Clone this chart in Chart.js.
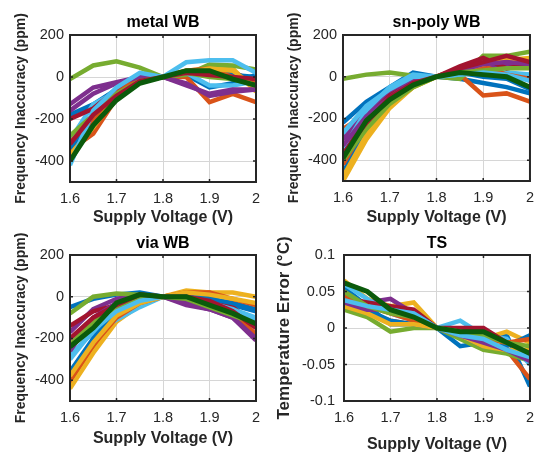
<!DOCTYPE html>
<html>
<head>
<meta charset="utf-8">
<script src="https://cdn.jsdelivr.net/npm/chart.js@4.4.0/dist/chart.umd.min.js"></script>
<style>
  html, body { margin: 0; padding: 0; background: #fff; }
  #wrap { position: relative; width: 542px; height: 454px; }
  .cell { position: absolute; width: 271px; height: 227px; }
</style>
</head>
<body>
<div id="wrap">
  <div class="cell" style="left:0;top:0"><canvas id="c-metal"></canvas></div>
  <div class="cell" style="left:271px;top:0"><canvas id="c-snpoly"></canvas></div>
  <div class="cell" style="left:0;top:227px"><canvas id="c-via"></canvas></div>
  <div class="cell" style="left:271px;top:227px"><canvas id="c-ts"></canvas></div>
</div>
<script>
// --- data ---
const VOLTS = [1.6, 1.65, 1.7, 1.75, 1.8, 1.85, 1.9, 1.95, 2.0];
const X_TICKS = [1.6, 1.7, 1.8, 1.9, 2.0];
const PPM_TICKS = [-400, -200, 0, 200];
const TS_TICKS = [-0.1, -0.05, 0, 0.05, 0.1];

// MATLAB colour order, last curve dark green
const PALETTE = ['#0072BD', '#D95319', '#EDB120', '#7E2F8E', '#77AC30', '#4DBEEE', '#A2142F'];
const LAST_COLOR = '#0B5A0B';

const METAL_WB = [
    [-180, -130, -60, -10, 0, 10, -50, -30, 10],
    [-350, -270, -100, -20, 0, 0, -120, -80, -120],
    [-390, -220, -80, -10, 0, 30, 40, 40, -70],
    [-130, -50, -25, 0, 0, -30, -90, -70, -60],
    [-10, 55, 75, 45, 0, 10, 60, 55, 35],
    [-300, -130, -70, 10, 0, 20, -40, -40, -20],
    [-200, -150, -60, 0, 0, 20, 10, 20, -20],
    [-340, -200, -100, -10, 0, 20, 20, 10, 0],
    [-310, -200, -80, 0, 0, 30, 40, 0, -30],
    [-370, -240, -90, -20, 0, 20, 40, 30, -50],
    [-160, -80, -30, 0, 0, -40, -80, -60, -60],
    [-280, -180, -80, -20, 0, 20, 0, -10, -40],
    [-420, -160, -50, 20, 0, 70, 80, 80, 20],
    [-320, -180, -90, -20, 0, 20, 10, 0, -10],
    [-400, -230, -110, -30, 0, 30, 30, -10, -40]
];

const SNPOLY_WB = [
    [-220, -120, -50, 20, 0, -10, -30, -50, -80],
    [-250, -180, -90, -10, 0, 10, -90, -80, -120],
    [-500, -300, -150, -50, 0, 40, 60, 60, 80],
    [-300, -170, -80, -10, 0, 20, 40, 60, 70],
    [-10, 10, 20, 5, 0, -10, 100, 100, 120],
    [-350, -160, -50, 10, 0, 10, 20, 20, 10],
    [-380, -200, -90, -30, 0, 50, 90, 40, 60],
    [-460, -250, -110, -20, 0, 20, 0, -10, -60],
    [-420, -230, -120, -40, 0, 30, 50, 10, -10],
    [-480, -280, -140, -50, 0, 30, 60, 80, 90],
    [-330, -190, -100, -20, 0, 30, 60, 70, 60],
    [-400, -250, -130, -50, 0, 20, 30, 40, 40],
    [-270, -140, -60, 0, 0, 10, 20, 10, -20],
    [-370, -220, -100, -30, 0, 40, 70, 100, 70],
    [-390, -210, -110, -40, 0, 20, 10, 0, -50]
];

const VIA_WB = [
    [-50, -10, 10, 20, 0, -10, -20, -40, -70],
    [-410, -250, -100, -30, 0, 20, 20, -80, -180],
    [-440, -270, -120, -40, 0, 30, 20, 20, 0],
    [-170, -60, -10, 10, 0, -40, -60, -100, -210],
    [-80, 0, 15, 10, 0, -10, -30, -60, -120],
    [-280, -170, -110, -50, 0, 10, -20, -60, -100],
    [-140, -70, -40, 0, 0, 10, -10, -50, -140],
    [-360, -200, -80, -20, 0, 10, -10, -30, -60],
    [-400, -230, -100, -30, 0, 20, 20, -10, -40],
    [-380, -220, -90, -30, 0, 20, 10, -10, -30],
    [-260, -100, -30, 0, 0, -30, -60, -100, -200],
    [-230, -120, -50, 0, 0, -10, -50, -90, -130],
    [-300, -160, -70, -20, 0, 0, -30, -60, -110],
    [-200, -100, -40, 10, 0, 0, -20, -70, -150],
    [-240, -150, -30, 10, 0, 0, -40, -80, -130]
];

const TS_ERR = [
    [0.055, 0.03, 0.005, 0.005, 0, -0.025, -0.02, -0.01, -0.08],
    [0.03, 0.02, 0.01, 0.005, 0, -0.01, -0.02, -0.03, -0.07],
    [0.065, 0.04, 0.03, 0.035, 0, -0.005, -0.015, -0.005, -0.02],
    [0.04, 0.035, 0.04, 0.02, 0, -0.01, -0.02, -0.03, -0.04],
    [0.025, 0.015, -0.005, 0, 0, -0.015, -0.03, -0.035, -0.045],
    [0.06, 0.04, 0.02, 0.01, 0, 0.01, -0.01, -0.015, -0.05],
    [0.04, 0.035, 0.03, 0.025, 0, 0, 0, -0.02, -0.035],
    [0.035, 0.025, 0.01, 0.005, 0, -0.01, -0.025, -0.025, -0.01],
    [0.045, 0.03, 0.02, 0.01, 0, -0.005, -0.015, -0.02, -0.015],
    [0.03, 0.02, 0.005, 0.005, 0, -0.01, -0.025, -0.03, -0.03],
    [0.035, 0.025, 0.025, 0.02, 0, -0.01, -0.02, -0.03, -0.045],
    [0.05, 0.03, 0.02, 0.015, 0, -0.005, -0.01, -0.02, -0.025],
    [0.038, 0.03, 0.025, 0.02, 0, -0.01, -0.015, -0.03, -0.04],
    [0.062, 0.05, 0.025, 0.015, 0, -0.005, -0.005, -0.02, -0.035]
];

const FONT = "'Liberation Sans', Arial, Helvetica, sans-serif";
const INK = '#262626';

// box round the plot plus inward tick marks, like MATLAB axes
const boxPlugin = {
    id: 'matlabBox',
    afterDatasetsDraw(chart) {
        const { ctx, chartArea: a, scales } = chart;
        ctx.save();
        ctx.strokeStyle = INK;
        ctx.lineWidth = 1.5;
        ctx.beginPath();
        scales.x.ticks.forEach(t => {
            const px = scales.x.getPixelForValue(t.value);
            ctx.moveTo(px, a.bottom); ctx.lineTo(px, a.bottom - 3);
            ctx.moveTo(px, a.top); ctx.lineTo(px, a.top + 3);
        });
        scales.y.ticks.forEach(t => {
            const py = scales.y.getPixelForValue(t.value);
            ctx.moveTo(a.left, py); ctx.lineTo(a.left + 3, py);
            ctx.moveTo(a.right, py); ctx.lineTo(a.right - 3, py);
        });
        ctx.stroke();
        ctx.lineWidth = 2;
        ctx.strokeRect(a.left, a.top, a.right - a.left, a.bottom - a.top);
        ctx.restore();
    }
};

function fmt(v) {
    return String(+Number(v).toFixed(2));
}

function makePanel(id, cfg) {
    const n = cfg.series.length;
    const datasets = cfg.series.map((vals, i) => {
        const last = i === n - 1;
        return {
            data: VOLTS.map((x, k) => ({ x: x, y: vals[k] })),
            borderColor: last ? LAST_COLOR : PALETTE[i % PALETTE.length],
            borderWidth: last ? 5 : 4.5,
            pointRadius: 0,
            tension: 0,
            order: n - i
        };
    });

    new Chart(document.getElementById(id), {
        type: 'line',
        data: { datasets },
        options: {
            responsive: true,
            maintainAspectRatio: false,
            animation: false,
            events: [],
            layout: { padding: { left: 0, right: cfg.padRight, top: 0, bottom: 0 } },
            plugins: {
                legend: { display: false },
                tooltip: { enabled: false },
                title: {
                    display: true,
                    text: cfg.title,
                    fullSize: false,
                    color: '#000',
                    font: { family: FONT, size: 16, weight: 'bold' },
                    padding: { top: cfg.titleTop, bottom: cfg.top - cfg.titleTop - 19.2 }
                }
            },
            scales: {
                x: {
                    type: 'linear',
                    min: 1.6,
                    max: 2.0,
                    afterBuildTicks: s => { s.ticks = X_TICKS.map(v => ({ value: v })); },
                    afterFit: s => { s.height = cfg.xHeight; },
                    grid: { color: '#d6d6d6', lineWidth: 1, drawTicks: false },
                    border: { display: false },
                    ticks: {
                        color: INK,
                        padding: 8,
                        maxRotation: 0,
                        font: { family: FONT, size: 14.5 },
                        callback: v => fmt(v)
                    },
                    title: {
                        display: true,
                        text: 'Supply Voltage (V)',
                        color: INK,
                        font: { family: FONT, size: 16, weight: 'bold' },
                        padding: { top: 0, bottom: cfg.xTitleBottom }
                    }
                },
                y: {
                    type: 'linear',
                    min: cfg.yMin,
                    max: cfg.yMax,
                    afterBuildTicks: s => { s.ticks = cfg.yTicks.map(v => ({ value: v })); },
                    afterFit: s => { s.width = cfg.yWidth; },
                    grid: { color: '#d6d6d6', lineWidth: 1, drawTicks: false },
                    border: { display: false },
                    ticks: {
                        color: INK,
                        padding: cfg.yTickPad,
                        font: { family: FONT, size: 14.5 },
                        callback: v => fmt(v)
                    },
                    title: {
                        display: true,
                        text: cfg.yLabel,
                        color: INK,
                        font: { family: FONT, size: cfg.yLabelSize, weight: 'bold' },
                        padding: { top: cfg.yTitleTop, bottom: 0 }
                    }
                }
            }
        },
        plugins: [boxPlugin]
    });
}

const PPM_LABEL = 'Frequency Inaccuracy (ppm)';

makePanel('c-metal', {
    title: 'metal WB', series: METAL_WB, yMin: -500, yMax: 200, yTicks: PPM_TICKS,
    yLabel: PPM_LABEL, yLabelSize: 14, top: 35, titleTop: 13, xHeight: 45, yWidth: 70, padRight: 15,
    xTitleBottom: 0, yTickPad: 6, yTitleTop: 13
});
makePanel('c-snpoly', {
    title: 'sn-poly WB', series: SNPOLY_WB, yMin: -500, yMax: 200, yTicks: PPM_TICKS,
    yLabel: PPM_LABEL, yLabelSize: 14, top: 35, titleTop: 13, xHeight: 46, yWidth: 72, padRight: 12,
    xTitleBottom: 0, yTickPad: 6, yTitleTop: 15
});
makePanel('c-via', {
    title: 'via WB', series: VIA_WB, yMin: -500, yMax: 200, yTicks: PPM_TICKS,
    yLabel: PPM_LABEL, yLabelSize: 14, top: 28, titleTop: 7, xHeight: 53, yWidth: 70, padRight: 15,
    xTitleBottom: 6, yTickPad: 6, yTitleTop: 13
});
makePanel('c-ts', {
    title: 'TS', series: TS_ERR, yMin: -0.1, yMax: 0.1, yTicks: TS_TICKS,
    yLabel: 'Temperature Error (°C)', yLabelSize: 17, top: 28, titleTop: 7, xHeight: 53, yWidth: 73, padRight: 12,
    xTitleBottom: 0, yTickPad: 9, yTitleTop: 3
});
</script>
</body>
</html>
